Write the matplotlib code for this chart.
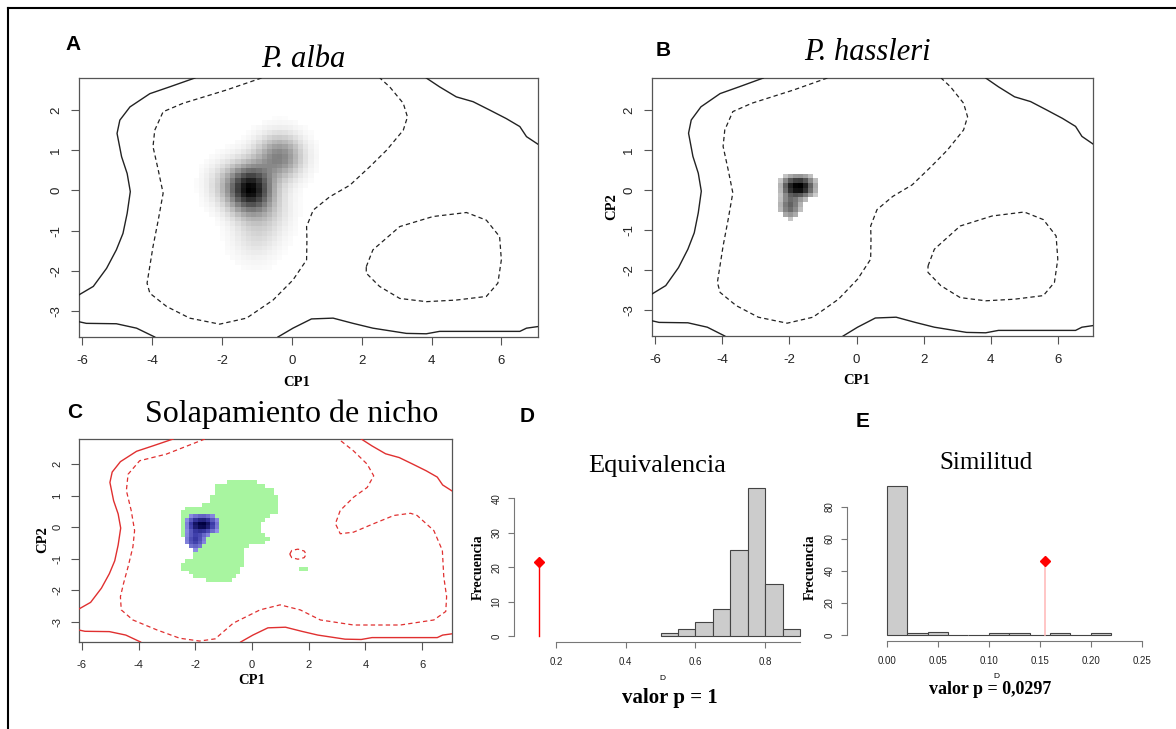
import numpy as np
import matplotlib.pyplot as plt
from matplotlib.colors import LinearSegmentedColormap, ListedColormap
from matplotlib.lines import Line2D
from matplotlib.path import Path

plt.rcParams["font.family"] = ["Liberation Sans", "DejaVu Sans"]
plt.rcParams["axes.unicode_minus"] = False

W, H = 1176, 729

# environmental space (CP1, CP2)
xlim = (-6.1, 7.05)
ylim = (-3.65, 2.8)

# solid contour: whole available environment
env_nw = [(-6.1, -2.6), (-5.69, -2.39), (-5.31, -1.94), (-5.03, -1.48), (-4.84, -1.07),
          (-4.72, -0.57), (-4.63, -0.03), (-4.72, 0.42), (-4.88, 0.84), (-5.01, 1.42),
          (-4.93, 1.75), (-4.64, 2.08), (-4.07, 2.41), (-3.5, 2.58), (-2.78, 2.8)]
env_ne = [(3.85, 2.8), (4.23, 2.58), (4.71, 2.33), (5.19, 2.21), (5.67, 2.0),
          (6.14, 1.79), (6.53, 1.59), (6.72, 1.34), (7.05, 1.15)]
env_sw = [(-6.1, -3.27), (-5.89, -3.31), (-5.03, -3.32), (-4.45, -3.43), (-3.93, -3.65)]
env_s = [(-0.4, -3.65), (0.03, -3.43), (0.56, -3.2), (1.18, -3.18), (1.75, -3.31),
         (2.32, -3.43), (3.28, -3.56), (3.85, -3.57), (4.23, -3.51), (5.19, -3.51),
         (6.53, -3.51), (6.72, -3.43), (7.05, -3.39)]

# dashed contour: 50% of the available environment
half_main = [(-0.87, 2.8), (-1.88, 2.5), (-3.12, 2.17), (-3.69, 1.96), (-3.93, 1.5),
             (-3.98, 1.09), (-3.83, 0.51), (-3.69, -0.07), (-3.83, -0.74), (-3.98, -1.4),
             (-4.15, -2.31), (-4.07, -2.56), (-3.59, -2.89), (-2.93, -3.18), (-2.07, -3.33),
             (-1.3, -3.18), (-0.54, -2.73), (0.03, -2.23), (0.42, -1.73), (0.43, -1.23),
             (0.42, -0.9), (0.61, -0.49), (1.08, -0.16), (1.66, 0.13), (2.23, 0.59),
             (2.71, 1.0), (3.19, 1.5), (3.31, 1.83), (3.19, 2.17), (2.8, 2.58), (2.52, 2.8)]
half_loop = [(2.13, -1.9), (2.32, -1.48), (3.09, -0.9), (4.04, -0.65), (5.0, -0.55),
             (5.57, -0.74), (5.95, -1.15), (6.0, -1.73), (5.9, -2.31), (5.57, -2.64),
             (4.71, -2.73), (3.85, -2.77), (3.09, -2.69), (2.51, -2.39), (2.13, -2.06),
             (2.13, -1.9)]

# dashed contours of the overlap panel
ov_main = [(-1.66, 2.8), (-3.02, 2.32), (-3.96, 2.11), (-4.37, 1.68), (-4.43, 1.16),
           (-4.26, 0.53), (-4.14, -0.11), (-4.2, -0.63), (-4.37, -1.26), (-4.53, -1.79),
           (-4.64, -2.21), (-4.61, -2.63), (-4.2, -2.95), (-3.37, -3.26), (-2.55, -3.53),
           (-1.85, -3.62), (-1.3, -3.55), (-0.66, -3.05), (0.28, -2.63), (0.99, -2.47),
           (1.7, -2.63), (2.41, -2.95), (3.58, -3.11), (5.23, -3.11), (6.41, -2.95),
           (6.83, -2.68), (6.86, -2.21), (6.76, -1.58), (6.71, -0.74), (6.41, -0.11),
           (5.82, 0.37), (5.59, 0.44), (5.0, 0.37), (4.29, 0.11), (3.58, -0.16),
           (3.11, -0.21), (2.94, 0.11), (3.11, 0.53), (3.58, 0.95), (4.06, 1.26),
           (4.29, 1.63), (4.06, 2.0), (3.58, 2.42), (3.05, 2.8)]
ov_small = [(1.33, -0.86), (1.4, -0.74), (1.62, -0.7), (1.84, -0.76), (1.91, -0.86),
            (1.84, -0.97), (1.62, -1.02), (1.4, -0.97), (1.33, -0.86)]

# area occupied by P. alba (overlap panel)
alba_area = [(-1.25, 1.32), (-0.66, 1.49), (0.05, 1.49), (0.52, 1.32), (0.81, 1.11),
             (0.99, 0.84), (0.99, 0.58), (0.81, 0.42), (0.4, 0.21), (0.34, -0.16),
             (0.58, -0.32), (0.52, -0.47), (0.05, -0.53), (-0.19, -0.63), (-0.25, -0.95),
             (-0.42, -1.42), (-0.66, -1.68), (-1.19, -1.74), (-1.84, -1.63), (-2.31, -1.42),
             (-2.55, -1.26), (-2.37, -1.11), (-2.07, -1.0), (-2.07, -0.63), (-2.49, -0.32),
             (-2.55, 0.42), (-2.37, 0.58), (-1.84, 0.68), (-1.43, 0.79), (-1.37, 1.16)]
alba_patch = [(1.66, -1.26), (1.92, -1.26), (1.92, -1.42), (1.66, -1.42)]

# occurrence density kernels: centre x, centre y, spread x, spread y, weight
alba_mx = [-1.2, -0.35, -1.05, -1.95, -0.6]
alba_my = [0.02, 0.82, -1.1, 0.15, -0.5]
alba_sx = [0.42, 0.45, 0.45, 0.38, 0.42]
alba_sy = [0.4, 0.37, 0.45, 0.38, 0.42]
alba_w = [1.0, 0.5, 0.13, 0.14, 0.12]

hass_mx = [-1.7, -2.0, -2.05]
hass_my = [0.08, -0.4, 0.1]
hass_sx = [0.26, 0.2, 0.16]
hass_sy = [0.17, 0.19, 0.15]
hass_w = [1.0, 0.5, 0.3]

# null distributions of D
equiv_edges = [0.5, 0.55, 0.6, 0.65, 0.7, 0.75, 0.8, 0.85, 0.9]
equiv_counts = [1, 2, 4, 8, 25, 43, 15, 2]
simil_edges = [0.0, 0.02, 0.04, 0.06, 0.08, 0.10, 0.12, 0.14, 0.16, 0.18, 0.20, 0.22]
simil_counts = [93, 1, 2, 0, 0, 1, 1, 0, 1, 0, 1]
d_obs_equiv = 0.153
d_obs_simil = 0.155

fig = plt.figure(figsize=(W / 100, H / 100), dpi=100)
fig.patch.set_facecolor("white")


def fx(x):
    return x / W


def fy(y):
    return 1 - y / H


def axes_px(left, top, right, bottom):
    return fig.add_axes([fx(left), fy(bottom), (right - left) / W, (bottom - top) / H])


# density grid
nx, ny = 88, 54
gx = np.linspace(xlim[0], xlim[1], nx + 1)
gy = np.linspace(ylim[0], ylim[1], ny + 1)
CX, CY = np.meshgrid((gx[:-1] + gx[1:]) / 2, (gy[:-1] + gy[1:]) / 2)


def density(mx, my, sx, sy, w):
    z = np.zeros_like(CX)
    for a, b, c, d, e in zip(mx, my, sx, sy, w):
        z += e * np.exp(-((CX - a) ** 2 / (2 * c ** 2) + (CY - b) ** 2 / (2 * d ** 2)))
    return z / z.max()


def show_grid(ax, z, cmap, vmin=0, vmax=1):
    ax.imshow(z, extent=(xlim[0], xlim[1], ylim[0], ylim[1]), origin="lower",
              aspect="auto", interpolation="nearest", cmap=cmap, vmin=vmin, vmax=vmax,
              zorder=1)


def draw_lines(ax, color, dashed):
    for seg in [env_nw, env_ne, env_sw, env_s]:
        xs, ys = zip(*seg)
        ax.plot(xs, ys, color=color, lw=1.0, zorder=3)
    for seg in dashed:
        xs, ys = zip(*seg)
        ax.plot(xs, ys, color=color, lw=0.9, ls=(0, (3.5, 2.5)), zorder=3)


def env_style(ax, fs):
    ax.set_xlim(*xlim)
    ax.set_ylim(*ylim)
    ax.set_xticks([-6, -4, -2, 0, 2, 4, 6])
    ax.set_yticks([-3, -2, -1, 0, 1, 2])
    ax.set_yticklabels(["-3", "-2", "-1", "0", "1", "2"], rotation=90, va="center")
    ax.tick_params(axis="both", direction="out", length=6, width=0.8, color="#555555",
                   labelcolor="#222222", labelsize=fs)
    ax.tick_params(axis="x", pad=7)
    ax.tick_params(axis="y", pad=6)
    for sp in ax.spines.values():
        sp.set_color("#555555")
        sp.set_linewidth(0.9)


grays = LinearSegmentedColormap.from_list("grays", ["#ffffff", "#000000"])
blues = LinearSegmentedColormap.from_list("blues", ["#9090e6", "#3c3ca8", "#000040"])

z_alba = density(alba_mx, alba_my, alba_sx, alba_sy, alba_w)
z_hass = density(hass_mx, hass_my, hass_sx, hass_sy, hass_w)
hass_cells = np.ma.masked_less(z_hass, 0.1) ** 0.7

serif = "Liberation Serif"
sans = "Liberation Sans"

# A: P. alba
axA = axes_px(79, 78, 538, 337)
show_grid(axA, np.ma.masked_less(z_alba, 0.015), grays)
draw_lines(axA, "#222222", [half_main, half_loop])
env_style(axA, 9.5)

# B: P. hassleri
axB = axes_px(652, 78, 1093, 336)
show_grid(axB, hass_cells, grays)
draw_lines(axB, "#222222", [half_main, half_loop])
env_style(axB, 9.5)

# C: overlap
axC = axes_px(79, 439, 452, 642)
pts = np.column_stack([CX.ravel(), CY.ravel()])
occ = Path(alba_area).contains_points(pts) | Path(alba_patch).contains_points(pts)
occ = occ.reshape(CX.shape).astype(float)
show_grid(axC, np.ma.masked_less(occ, 0.5), ListedColormap(["#a8f5a0"]))
show_grid(axC, hass_cells, blues, vmin=0.2)
draw_lines(axC, "#e03030", [ov_main, ov_small])
env_style(axC, 8)

# axis titles of the environmental panels
lab = dict(family=serif, fontweight="bold", fontsize=10.5, ha="center", va="center")
fig.text(fx(297), fy(383), "CP1", **lab)
fig.text(fx(857), fy(381), "CP1", **lab)
fig.text(fx(252), fy(680), "CP1", **lab)
fig.text(fx(612), fy(207), "CP2", rotation=90, **lab)
fig.text(fx(43), fy(540), "CP2", rotation=90, **lab)


def hist_style(ax, xt, xtl, yt, xb, yb):
    for s in ["top", "right"]:
        ax.spines[s].set_visible(False)
    ax.spines["left"].set_bounds(*yb)
    ax.spines["bottom"].set_bounds(*xb)
    for s in ["left", "bottom"]:
        ax.spines[s].set_color("#777777")
        ax.spines[s].set_linewidth(0.8)
    ax.set_xticks(xt)
    ax.set_xticklabels(xtl)
    ax.set_yticks(yt)
    ax.set_yticklabels([str(v) for v in yt], rotation=90, va="center")
    ax.tick_params(direction="out", length=4, width=0.8, color="#777777",
                   labelcolor="#222222", labelsize=7)
    ax.tick_params(axis="x", pad=7)
    ax.tick_params(axis="y", pad=5)
    ax.patch.set_alpha(0)


# D: equivalency test
axD = axes_px(514, 482, 807, 642)
axD.bar(equiv_edges[:-1], equiv_counts, width=np.diff(equiv_edges), align="edge",
        color="#cccccc", edgecolor="#444444", lw=0.8)
axD.plot([d_obs_equiv, d_obs_equiv], [0, max(equiv_counts) / 2], color="red", lw=1.0)
axD.plot(d_obs_equiv, max(equiv_counts) / 2, marker="D", color="red", ms=5)
axD.set_xlim(0.08, 0.92)
axD.set_ylim(-1.72, 44.72)
hist_style(axD, [0.2, 0.4, 0.6, 0.8], ["0.2", "0.4", "0.6", "0.8"], [0, 10, 20, 30, 40],
           (0.2, 0.9), (0, 40))

# E: similarity test
axE = axes_px(847, 480, 1152, 641)
axE.bar(simil_edges[:-1], simil_counts, width=np.diff(simil_edges), align="edge",
        color="#cccccc", edgecolor="#444444", lw=0.8)
axE.plot([d_obs_simil, d_obs_simil], [0, max(simil_counts) / 2], color="#ffbcbc", lw=1.2)
axE.plot(d_obs_simil, max(simil_counts) / 2, marker="D", color="red", ms=5)
axE.set_xlim(-0.039, 0.26)
axE.set_ylim(-3.72, 96.72)
hist_style(axE, [0, 0.05, 0.10, 0.15, 0.20, 0.25],
           ["0.00", "0.05", "0.10", "0.15", "0.20", "0.25"], [0, 20, 40, 60, 80],
           (0, 0.25), (0, 80))

small = dict(family=serif, fontweight="bold", fontsize=10, rotation=90, ha="center", va="center")
fig.text(fx(478), fy(567), "Frecuencia", **small)
fig.text(fx(810), fy(567), "Frecuencia", **small)
fig.text(fx(662), fy(679), "D", family=sans, fontsize=6, ha="center", va="center")
fig.text(fx(996), fy(676), "D", family=sans, fontsize=6, ha="center", va="center")
fig.text(fx(670), fy(698), "valor p = 1", family=serif, fontweight="bold", fontsize=15,
         ha="center", va="center")
fig.text(fx(990), fy(690), "valor p = 0,0297", family=serif, fontweight="bold",
         fontsize=13, ha="center", va="center")

# panel titles
fig.text(fx(303), fy(67), "P. alba", family=serif, style="italic", fontsize=22,
         ha="center", va="baseline")
fig.text(fx(867), fy(60), "P. hassleri", family=serif, style="italic", fontsize=22,
         ha="center", va="baseline")
fig.text(fx(292), fy(422), "Solapamiento de nicho", family=serif, fontsize=23,
         ha="center", va="baseline")
fig.text(fx(657), fy(472), "Equivalencia", family=serif, fontsize=19,
         ha="center", va="baseline")
fig.text(fx(986), fy(469), "Similitud", family=serif, fontsize=18,
         ha="center", va="baseline")

# panel letters
for letter, x, y in [("A", 73, 45), ("B", 663, 50), ("C", 75, 413), ("D", 527, 417),
                     ("E", 863, 422)]:
    fig.text(fx(x), fy(y), letter, family=sans, fontweight="bold", fontsize=15,
             ha="center", va="center")

# frame on top and left
fig.add_artist(Line2D([fx(8), 1], [fy(8), fy(8)], color="black", lw=1.5))
fig.add_artist(Line2D([fx(8), fx(8)], [0, fy(8)], color="black", lw=1.5))

fig.savefig("out.png", dpi=100)
